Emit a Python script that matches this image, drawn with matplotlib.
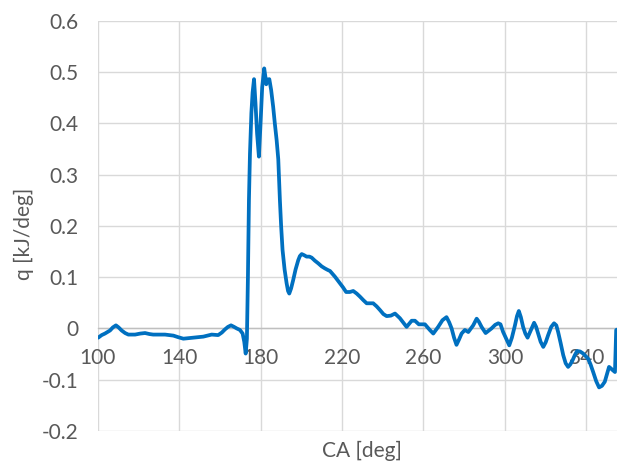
import matplotlib
matplotlib.use("Agg")
import matplotlib.pyplot as plt

ca_deg = [100.3, 102.0, 103.6, 106.1, 107.5, 109.0, 110.3, 111.8, 113.5, 115.1,
          118.4, 121.0, 123.3, 125.5, 127.3, 133.1, 137.2, 139.5, 142.1, 147.0,
          151.9, 156.0, 159.2, 161.0, 162.5, 164.0, 165.5, 167.0, 168.3, 169.9,
          171.2, 172.0, 172.7, 173.3, 173.8, 174.3, 174.8, 175.5, 176.1, 176.8,
          177.5, 178.3, 179.2, 180.0, 180.8, 181.8, 182.4, 182.8, 183.3, 184.3,
          185.2, 186.2, 187.0, 187.9, 188.7, 189.5, 190.1, 190.8, 191.8, 192.8,
          193.5, 194.1, 195.0, 196.0, 197.2, 198.5, 199.3, 200.2, 201.3, 202.6,
          204.0, 205.1, 206.7, 208.3, 210.0, 211.6, 213.0, 214.1, 216.5, 219.0,
          220.5, 222.0, 223.8, 225.5, 227.2, 228.8, 230.5, 232.1, 233.7, 235.3,
          237.0, 238.6, 240.3, 241.9, 244.0, 246.0, 248.4, 251.7, 254.2, 255.8,
          257.7, 260.7, 263.1, 264.8, 267.2, 269.3, 271.3, 272.6, 273.8, 275.0,
          276.2, 277.4, 278.7, 280.3, 282.0, 284.4, 286.1, 287.2, 288.5, 290.5,
          293.4, 295.2, 296.7, 297.8, 299.1, 300.6, 302.1, 303.4, 304.9, 305.9,
          306.8, 307.8, 308.9, 310.0, 311.1, 312.2, 313.1, 314.3, 315.3, 316.3,
          317.5, 318.8, 320.0, 321.2, 322.7, 324.1, 325.2, 326.1, 327.3, 328.6,
          329.8, 331.0, 332.1, 333.2, 334.3, 335.4, 336.9, 338.4, 340.8, 342.0,
          343.3, 344.8, 346.2, 347.6, 349.0, 350.0, 351.1, 352.0, 352.8, 354.0,
          354.6, 357.0]

q_kj = [-0.018, -0.013, -0.010, -0.004, 0.002, 0.006, 0.002, -0.004, -0.009, -0.012,
        -0.012, -0.010, -0.009, -0.011, -0.012, -0.012, -0.014, -0.017, -0.020, -0.018,
        -0.016, -0.012, -0.013, -0.008, -0.002, 0.003, 0.006, 0.003, 0.000, -0.003,
        -0.010, -0.026, -0.049, -0.020, 0.100, 0.250, 0.340, 0.420, 0.460, 0.486,
        0.440, 0.380, 0.335, 0.400, 0.470, 0.507, 0.490, 0.476, 0.485, 0.486,
        0.465, 0.432, 0.400, 0.367, 0.330, 0.250, 0.200, 0.153, 0.115, 0.088,
        0.073, 0.068, 0.078, 0.094, 0.115, 0.133, 0.141, 0.145, 0.143, 0.140,
        0.140, 0.138, 0.132, 0.127, 0.121, 0.117, 0.114, 0.112, 0.101, 0.088,
        0.080, 0.071, 0.071, 0.073, 0.068, 0.062, 0.055, 0.049, 0.049, 0.049,
        0.043, 0.036, 0.028, 0.024, 0.025, 0.029, 0.020, 0.003, 0.015, 0.015,
        0.008, 0.008, -0.003, -0.010, 0.003, 0.016, 0.022, 0.012, 0.000, -0.018,
        -0.032, -0.022, -0.010, -0.003, -0.007, 0.006, 0.019, 0.013, 0.003, -0.009,
        0.000, 0.007, 0.010, 0.008, -0.007, -0.020, -0.033, -0.018, 0.006, 0.024,
        0.034, 0.022, 0.003, -0.010, -0.018, -0.008, 0.000, 0.011, 0.003, -0.010,
        -0.026, -0.036, -0.027, -0.013, 0.003, 0.010, 0.006, -0.007, -0.028, -0.052,
        -0.068, -0.075, -0.070, -0.062, -0.052, -0.044, -0.045, -0.049, -0.059, -0.070,
        -0.085, -0.103, -0.115, -0.112, -0.104, -0.090, -0.075, -0.078, -0.081, -0.085,
        -0.003, 0.000]

x_ticks = [100, 140, 180, 220, 260, 300, 340]
y_ticks = [-0.2, -0.1, 0, 0.1, 0.2, 0.3, 0.4, 0.5, 0.6]
y_tick_labels = ["-0.2", "-0.1", "0", "0.1", "0.2", "0.3", "0.4", "0.5", "0.6"]

plt.rcParams['font.family'] = ['Lato', 'DejaVu Sans']
text_color = '#595959'

fig = plt.figure(figsize=(6.17, 4.65), dpi=100)
ax = fig.add_axes([97.6 / 617, 34 / 465, (617 - 97.6) / 617, (431 - 20.7) / 465])

ax.set_xlim(100, 355)
ax.set_ylim(-0.2, 0.6)
ax.set_xticks(x_ticks)
ax.set_yticks(y_ticks)
ax.set_yticklabels(y_tick_labels)

ax.grid(True, color='#d9d9d9', linewidth=1.0)
ax.set_axisbelow(True)
for s in ['top', 'right', 'left']:
    ax.spines[s].set_visible(False)
ax.spines['bottom'].set_position(('data', 0))
ax.spines['bottom'].set_color('#bfbfbf')
ax.spines['bottom'].set_linewidth(1.0)

ax.tick_params(axis='both', length=0, labelsize=15, labelcolor=text_color)
ax.tick_params(axis='x', pad=14)
ax.tick_params(axis='y', pad=14)

ax.plot(ca_deg, q_kj, color='#0070C0', linewidth=2.7, solid_joinstyle='round',
        solid_capstyle='round', zorder=3)

fig.text(23.6 / 617, 1 - 234 / 465, 'q [kJ/deg]', rotation=90, ha='center', va='center',
         fontsize=15, color=text_color)
fig.text(361.6 / 617, 1 - 451 / 465, 'CA [deg]', ha='center', va='center',
         fontsize=15, color=text_color)

fig.savefig('out.png', dpi=100)
